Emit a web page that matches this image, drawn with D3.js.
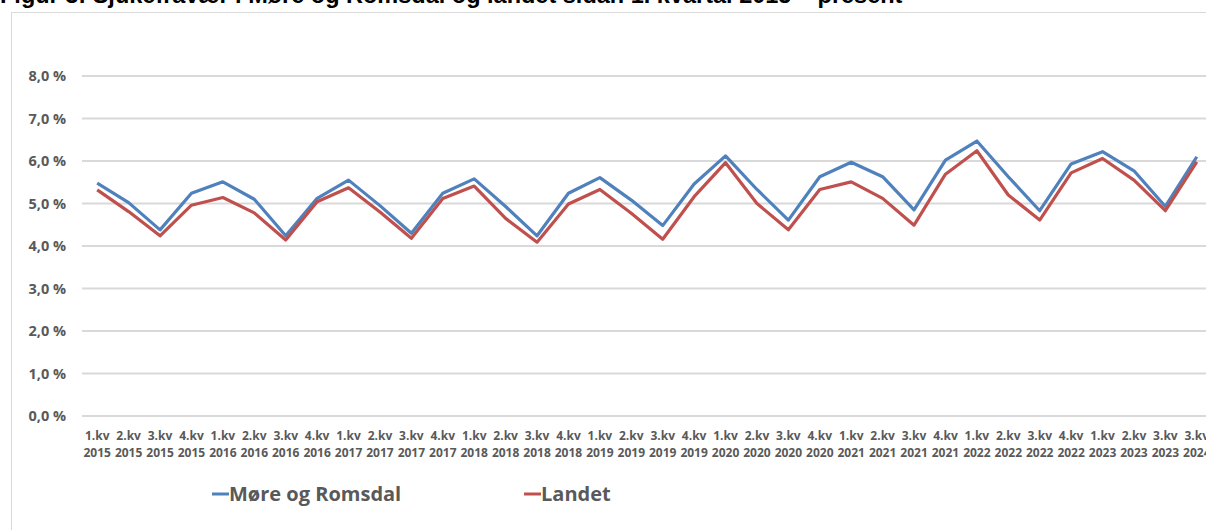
<!DOCTYPE html>
<html>
<head>
<meta charset="utf-8">
<script src="https://cdn.jsdelivr.net/npm/d3@7"></script>
<style>
  body { margin: 0; background: #fff; }
  text { font-family: "Open Sans", Lato, sans-serif; }
</style>
</head>
<body>
<div id="chart"></div>
<script>
// categories (quarters) as shown on the x axis
var quarters = ["1.kv", "2.kv", "3.kv", "4.kv"];
var labels = [];
for (var yr = 2015; yr <= 2023; yr++) {
    for (var q = 0; q < 4; q++) {
        if (yr === 2023 && q === 3) break;
        labels.push([quarters[q], String(yr)]);
    }
}
labels.push(["3.kv", "2024"]);

var moreRomsdal = [5.48, 5.02, 4.38, 5.24, 5.51, 5.10, 4.24, 5.12, 5.55, 4.95,
                   4.30, 5.24, 5.58, 4.93, 4.24, 5.24, 5.61, 5.08, 4.48, 5.46,
                   6.12, 5.33, 4.61, 5.63, 5.97, 5.63, 4.85, 6.02, 6.47, 5.63,
                   4.83, 5.93, 6.22, 5.77, 4.93, 6.10];
var landet = [5.32, 4.81, 4.24, 4.96, 5.14, 4.78, 4.14, 5.04, 5.37, 4.80,
              4.18, 5.12, 5.41, 4.65, 4.09, 4.99, 5.33, 4.77, 4.16, 5.16,
              5.96, 5.00, 4.38, 5.33, 5.51, 5.12, 4.49, 5.69, 6.24, 5.20,
              4.61, 5.72, 6.06, 5.55, 4.83, 5.98];
var yTicks = [0, 1, 2, 3, 4, 5, 6, 7, 8];

var series = [
    {name: "Møre og Romsdal", values: moreRomsdal, color: "#4F81BD"},
    {name: "Landet", values: landet, color: "#C0504D"}
];

var width = 1206, height = 530;

var svg = d3.select("#chart").append("svg")
    .attr("width", width)
    .attr("height", height);

// title, cropped at the top of the picture
svg.append("text")
    .attr("x", 0)
    .attr("y", 3)
    .style("font-family", "Liberation Sans, Arial, sans-serif")
    .style("font-weight", "bold")
    .style("font-size", "23.5px")
    .style("fill", "#000")
    .text("Figur 3: Sjukefravær i Møre og Romsdal og landet sidan 1. kvartal 2015 – present");

// chart frame
svg.append("rect")
    .attr("x", 11.5).attr("y", 12.5)
    .attr("width", 1300).attr("height", 600)
    .style("fill", "none")
    .style("stroke", "#d9d9d9");

var x = d3.scalePoint()
    .domain(d3.range(labels.length))
    .range([81.5, 1212.5])
    .padding(0.5);

var y = d3.scaleLinear().domain([0, 8]).range([416, 76]);

// gridlines
svg.append("g").selectAll("line")
    .data(yTicks).enter().append("line")
    .attr("x1", 82).attr("x2", width)
    .attr("y1", function(d) { return y(d); })
    .attr("y2", function(d) { return y(d); })
    .style("stroke", "#d9d9d9")
    .style("stroke-width", 2);

// y axis labels
svg.append("g").selectAll("text")
    .data(yTicks).enter().append("text")
    .attr("x", 66)
    .attr("y", function(d) { return y(d) + 5; })
    .attr("text-anchor", "end")
    .style("font-size", "14.5px")
    .style("font-weight", "bold")
    .style("fill", "#595959")
    .text(function(d) { return d3.format(".1f")(d).replace(".", ",") + " %"; });

// x axis labels
var xl = svg.append("g").selectAll("text")
    .data(labels).enter().append("text")
    .attr("text-anchor", "middle")
    .style("font-size", "12px")
    .style("font-weight", "bold")
    .style("fill", "#595959");
xl.append("tspan")
    .attr("x", function(d, i) { return x(i); })
    .attr("y", 440)
    .text(function(d) { return d[0]; });
xl.append("tspan")
    .attr("x", function(d, i) { return x(i); })
    .attr("y", 457)
    .text(function(d) { return d[1]; });

// lines
var line = d3.line()
    .x(function(d, i) { return x(i); })
    .y(function(d) { return y(d); });

svg.append("g").selectAll("path")
    .data(series).enter().append("path")
    .attr("d", function(d) { return line(d.values); })
    .style("fill", "none")
    .style("stroke", function(d) { return d.color; })
    .style("stroke-width", 3.2)
    .style("stroke-linejoin", "round");

// legend
var legX = [212, 524];
var leg = svg.append("g").selectAll("g")
    .data(series).enter().append("g")
    .attr("transform", function(d, i) { return "translate(" + legX[i] + ",494)"; });
leg.append("line")
    .attr("x1", 0).attr("x2", 17)
    .style("stroke", function(d) { return d.color; })
    .style("stroke-width", 3);
leg.append("text")
    .attr("x", 17)
    .attr("y", 7)
    .style("font-size", "20px")
    .style("font-weight", "bold")
    .style("fill", "#595959")
    .text(function(d) { return d.name; });
</script>
</body>
</html>
